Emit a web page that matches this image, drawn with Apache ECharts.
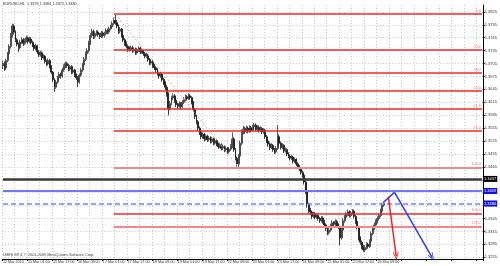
<!DOCTYPE html>
<html><head><meta charset="utf-8">
<script src="https://cdn.jsdelivr.net/npm/echarts@6/dist/echarts.min.js"></script>
<style>html,body{margin:0;padding:0;background:#fff}#c{width:500px;height:266px}</style>
</head><body><div id="c"></div>
<script>
// ---- data (prices in pips, /10000) ----
const tickLabels = ["12 Mar 2010","15 Mar 01:00","15 Mar 17:00","16 Mar 09:00","17 Mar 01:00","17 Mar 17:00","18 Mar 09:00","19 Mar 01:00","19 Mar 17:00","22 Mar 09:00","23 Mar 01:00","23 Mar 17:00","24 Mar 09:00","25 Mar 01:00","25 Mar 17:00","26 Mar 09:00"];
const barCount = 308;
const priceTicks = [1.3255,1.3285,1.3315,1.3345,1.3375,1.3405,1.3435,1.3465,1.3495,1.3525,1.3555,1.3585,1.3615,1.3645,1.3675,1.3705,1.3735,1.3765,1.3795,1.3825];
const openP = [
13700,13705,13695,13712,13728,13745,13770,13792,13778,13760,
13750,13742,13755,13760,13752,13758,13765,13756,13762,13754,
13748,13740,13746,13732,13725,13730,13718,13722,13710,13704,
13712,13698,13685,13668,13650,13662,13672,13680,13676,13690,
13698,13705,13700,13692,13698,13685,13690,13678,13672,13662,
13678,13690,13702,13715,13728,13735,13752,13770,13780,13768,
13775,13778,13772,13768,13776,13770,13774,13782,13778,13786,
13790,13798,13805,13800,13792,13780,13785,13770,13760,13752,
13745,13740,13738,13742,13735,13738,13730,13736,13740,13732,
13735,13728,13722,13725,13714,13706,13710,13700,13695,13690,
13682,13676,13680,13668,13660,13650,13635,13600,13612,13625,
13630,13620,13610,13606,13612,13605,13615,13622,13628,13624,
13630,13626,13615,13598,13582,13570,13555,13545,13535,13540,
13530,13536,13528,13532,13524,13530,13520,13526,13518,13512,
13516,13508,13512,13504,13508,13500,13506,13512,13530,13505,
13485,13472,13490,13520,13545,13552,13548,13555,13548,13556,
13550,13558,13562,13552,13557,13550,13554,13546,13550,13535,
13525,13518,13510,13515,13505,13500,13508,13535,13520,13510,
13515,13502,13505,13495,13490,13485,13488,13478,13482,13472,
13465,13460,13452,13446,13430,13410,13378,13365,13360,13350,
13356,13348,13352,13345,13340,13346,13338,13330,13322,13312,
13318,13328,13335,13332,13338,13330,13325,13300,13318,13340,
13348,13355,13360,13352,13358,13362,13350,13338,13325,13300,
13290,13280,13272,13278,13285,13280,13292,13310,13322,13330,
13338,13345,13352,13362,13376];
const closeP = [
13705,13695,13712,13728,13745,13770,13792,13778,13760,13750,
13742,13755,13760,13752,13758,13765,13756,13762,13754,13748,
13740,13746,13732,13725,13730,13718,13722,13710,13704,13712,
13698,13685,13668,13650,13662,13672,13680,13676,13690,13698,
13705,13700,13692,13698,13685,13690,13678,13672,13662,13678,
13690,13702,13715,13728,13735,13752,13770,13780,13768,13775,
13778,13772,13768,13776,13770,13774,13782,13778,13786,13790,
13798,13805,13800,13792,13780,13785,13770,13760,13752,13745,
13740,13738,13742,13735,13738,13730,13736,13740,13732,13735,
13728,13722,13725,13714,13706,13710,13700,13695,13690,13682,
13676,13680,13668,13660,13650,13635,13600,13612,13625,13630,
13620,13610,13606,13612,13605,13615,13622,13628,13624,13630,
13626,13615,13598,13582,13570,13555,13545,13535,13540,13530,
13536,13528,13532,13524,13530,13520,13526,13518,13512,13516,
13508,13512,13504,13508,13500,13506,13512,13530,13505,13485,
13472,13490,13520,13545,13552,13548,13555,13548,13556,13550,
13558,13562,13552,13557,13550,13554,13546,13550,13535,13525,
13518,13510,13515,13505,13500,13508,13535,13520,13510,13515,
13502,13505,13495,13490,13485,13488,13478,13482,13472,13465,
13460,13452,13446,13430,13410,13378,13365,13360,13350,13356,
13348,13352,13345,13340,13346,13338,13330,13322,13312,13318,
13328,13335,13332,13338,13330,13325,13300,13318,13340,13348,
13355,13360,13352,13358,13362,13350,13338,13325,13300,13290,
13280,13272,13278,13285,13280,13292,13310,13322,13330,13338,
13345,13352,13362,13376,13380];
const highP = [
13712,13710,13716,13732,13750,13776,13798,13796,13782,13764,
13754,13760,13766,13764,13763,13770,13768,13767,13766,13758,
13752,13751,13749,13736,13735,13733,13727,13725,13714,13717,
13715,13701,13688,13671,13667,13677,13685,13684,13695,13703,
13710,13709,13704,13702,13701,13695,13693,13682,13676,13682,
13695,13707,13720,13733,13741,13758,13776,13786,13784,13780,
13783,13782,13776,13781,13780,13779,13787,13786,13791,13795,
13803,13812,13820,13806,13796,13790,13788,13774,13764,13756,
13749,13745,13747,13746,13743,13742,13741,13745,13744,13740,
13739,13732,13730,13728,13718,13715,13713,13704,13699,13694,
13686,13685,13683,13672,13664,13655,13638,13618,13630,13636,
13634,13624,13614,13617,13616,13620,13627,13633,13632,13636,
13634,13629,13618,13601,13586,13574,13559,13549,13545,13544,
13541,13540,13537,13536,13535,13533,13531,13530,13522,13521,
13520,13517,13515,13513,13511,13511,13518,13545,13534,13509,
13489,13495,13526,13552,13560,13558,13561,13559,13562,13560,
13563,13567,13566,13562,13561,13559,13558,13555,13553,13539,
13529,13522,13520,13518,13509,13513,13562,13540,13524,13520,
13518,13510,13508,13499,13494,13493,13491,13487,13485,13476,
13469,13464,13456,13449,13434,13413,13382,13370,13364,13361,
13360,13357,13356,13349,13351,13350,13342,13334,13326,13323,
13333,13341,13339,13343,13342,13334,13328,13324,13346,13353,
13360,13366,13364,13363,13367,13366,13353,13341,13328,13304,
13294,13284,13283,13290,13289,13297,13315,13327,13336,13343,
13350,13358,13368,13382,13384];
const lowP = [
13692,13688,13690,13708,13724,13740,13765,13772,13755,13745,
13732,13738,13750,13746,13748,13754,13751,13752,13749,13743,
13735,13736,13727,13720,13721,13713,13714,13705,13699,13700,
13693,13680,13662,13639,13646,13658,13668,13670,13672,13686,
13694,13695,13687,13688,13680,13681,13673,13667,13650,13658,
13674,13686,13698,13711,13723,13730,13748,13765,13762,13763,
13770,13767,13762,13764,13765,13766,13770,13773,13774,13782,
13786,13794,13795,13787,13774,13775,13765,13755,13746,13740,
13732,13733,13734,13730,13731,13725,13726,13732,13727,13728,
13723,13717,13718,13709,13701,13702,13695,13690,13684,13677,
13670,13672,13663,13655,13644,13628,13585,13596,13608,13620,
13614,13604,13600,13602,13599,13601,13611,13618,13619,13620,
13621,13610,13592,13576,13564,13549,13539,13529,13530,13524,
13526,13523,13524,13519,13520,13515,13516,13513,13507,13508,
13503,13504,13499,13500,13495,13496,13502,13508,13500,13480,
13466,13464,13486,13515,13540,13542,13544,13543,13544,13545,
13546,13553,13548,13548,13545,13546,13541,13542,13530,13520,
13512,13504,13506,13500,13495,13496,13504,13515,13505,13506,
13497,13498,13490,13485,13480,13481,13473,13474,13467,13460,
13455,13447,13440,13424,13402,13370,13358,13354,13344,13346,
13343,13344,13340,13335,13336,13333,13325,13316,13306,13308,
13314,13324,13327,13328,13325,13320,13283,13296,13314,13335,
13344,13350,13347,13348,13353,13345,13332,13320,13294,13284,
13274,13268,13267,13273,13275,13276,13288,13306,13318,13326,
13333,13340,13348,13358,13372];

const titleText = "EURUSD,H1  1.3376 1.3384 1.3372 1.3380";
const copyText = "LMES MT4, \u00a9 2001-2009 MetaQuotes Software Corp.";
// Fibonacci retracement
const fibHigh = 1.3820, fibLow = 1.3464, fibStartBar = 71, fibHighBar = 72, fibLowBar = 151;
const fibLevels = [0, 23.6, 38.2, 50.0, 61.8, 76.4, 100.0];
const fibNames = ["0.0","23.6","38.2","50.0","61.8","76.4","100.0"];
// extra levels
const extLevels = [1.3357, 1.3327];
const extNames = ["100.0", "138.2"];
// full-width price lines
const blackLine = 1.3437, blueLine = 1.3409, bidLine = 1.3380;
// arrows [bar, price]
const bluePath = [[244, 1.3383], [251, 1.3406], [275, 1.3255]];
const redArrow = [[247, 1.3396], [252, 1.3258]];

// ---- build ----
const cats = Array.from({length: barCount}, (_, i) => String(i));
const ohlc = openP.map((o, i) => [o / 1e4, closeP[i] / 1e4, lowP[i] / 1e4, highP[i] / 1e4]);
const FONT = 'Liberation Sans';
const arrowHead = 'path://M5,0 L10,10 L8.6,10 L5,2.8 L1.4,10 L0,10 Z';
const smallLbl = (txt, col) => ({show: true, position: 'insideEndTop', formatter: txt, color: col, fontSize: 3.8, fontFamily: FONT, distance: 1});
const boxLbl = (txt, bg) => ({show: true, position: 'end', formatter: txt, color: '#fff', backgroundColor: bg, fontSize: 4, fontFamily: FONT, padding: [1, 1], distance: 1});

const mlData = [];
fibLevels.forEach((lv, k) => {
  const v = fibHigh - lv / 100 * (fibHigh - fibLow);
  const isLast = k === fibLevels.length - 1;
  mlData.push([
    {coord: [fibStartBar, v], lineStyle: {color: isLast ? '#f08a8a' : '#ee2a2a', width: isLast ? 2 : 1.5, type: 'solid'}},
    {coord: [barCount - 1, v], label: smallLbl(fibNames[k], '#f08080')}
  ]);
});
extLevels.forEach((v, k) => {
  mlData.push([
    {coord: [fibStartBar, v], lineStyle: {color: k === 0 ? '#ee2a2a' : '#f08a8a', width: k === 0 ? 1.5 : 2, type: 'solid'}},
    {coord: [barCount - 1, v], label: smallLbl(extNames[k], '#f08080')}
  ]);
});
mlData.push([
  {coord: [fibHighBar, fibHigh], lineStyle: {color: '#f4a0a0', width: 1, type: [2, 2]}},
  {coord: [fibLowBar, fibLow]}
]);
const fullLine = (v, style, bg) => [
  {coord: [0, v], lineStyle: style},
  {coord: [barCount - 1, v], label: boxLbl(v.toFixed(4), bg)}
];
mlData.push(fullLine(blackLine, {color: '#3a3a3a', width: 2.5, type: 'solid'}, '#000'));
mlData.push(fullLine(blueLine, {color: '#7474ff', width: 2, type: 'solid'}, '#1010e0'));
mlData.push(fullLine(bidLine, {color: '#7f7fff', width: 1.5, type: [5, 3]}, '#1010e0'));
for (let i = 0; i < bluePath.length - 1; i++) {
  const last = i === bluePath.length - 2;
  mlData.push([
    {coord: bluePath[i], lineStyle: {color: '#2a3cf0', width: 1.5, type: 'solid'}},
    Object.assign({coord: bluePath[i + 1]}, last ? {symbol: arrowHead, symbolSize: [6, 8]} : {})
  ]);
}
mlData.push([
  {coord: redArrow[0], lineStyle: {color: '#ee2222', width: 1.5, type: 'solid'}},
  {coord: redArrow[1], symbol: arrowHead, symbolSize: [6, 8]}
]);

const chart = echarts.init(document.getElementById('c'), null, {renderer: 'canvas'});
chart.setOption({
  animation: false,
  backgroundColor: '#ffffff',
  title: [
    {text: titleText, left: 3, top: 2, padding: 0, textStyle: {fontSize: 3.8, fontWeight: 'normal', color: '#333', fontFamily: FONT}},
    {text: copyText, left: 3, top: 253, padding: 0, textStyle: {fontSize: 3.8, fontWeight: 'normal', color: '#444', fontFamily: FONT}}
  ],
  grid: {left: 1, right: 14, top: 5, bottom: 7},
  xAxis: {
    type: 'category', data: cats, boundaryGap: true,
    axisLine: {lineStyle: {color: '#000', width: 1}},
    axisTick: {show: true, interval: 15, length: 2, lineStyle: {color: '#000'}},
    axisLabel: {interval: 15, formatter: (v, i) => tickLabels[i / 16] || '', align: 'left', fontSize: 3.7, color: '#333', margin: 1, fontFamily: FONT},
    splitLine: {show: true, interval: 7, lineStyle: {color: '#c3c7d3', width: 1, type: [1, 2]}}
  },
  yAxis: {
    type: 'value', position: 'right', scale: true, min: 1.3251, max: 1.3841,
    axisLine: {show: true, lineStyle: {color: '#000', width: 1}},
    axisTick: {show: true, length: 2, customValues: priceTicks, lineStyle: {color: '#000'}},
    axisLabel: {customValues: priceTicks, formatter: v => v.toFixed(4), fontSize: 4, color: '#333', margin: 2, fontFamily: FONT},
    splitLine: {show: true, lineStyle: {color: '#c3c7d3', width: 1, type: [1, 2]}}
  },
  series: [{
    type: 'candlestick',
    data: ohlc,
    barWidth: 1.4,
    itemStyle: {color: '#7a7a7a', color0: '#111', borderColor: '#333', borderColor0: '#111', borderWidth: 0.8},
    markLine: {silent: true, symbol: ['none', 'none'], label: {show: false}, data: mlData, animation: false}
  }]
});
</script></body></html>
